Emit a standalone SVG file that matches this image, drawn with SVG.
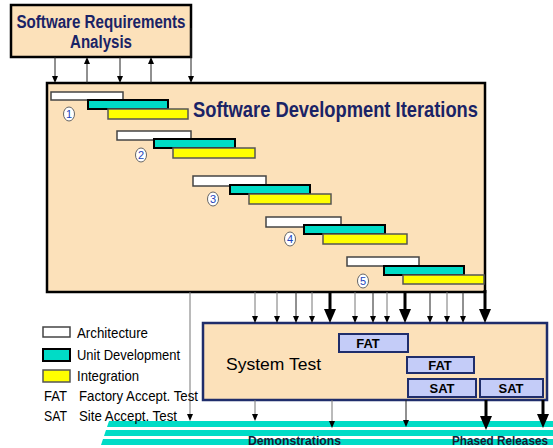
<svg xmlns="http://www.w3.org/2000/svg" width="553" height="448" viewBox="0 0 553 448">
<style>
.box{fill:#FCE1BA;stroke:#000;stroke-width:2.5}
.st{fill:#FCE1BA;stroke:#1F2D6B;stroke-width:2.5}
.arch{fill:#fff;stroke:#444;stroke-width:1.5}
.unit{fill:#00DCC6;stroke:#000;stroke-width:2}
.integ{fill:#FFFF00;stroke:#555;stroke-width:1.5}
.test{fill:#C4CCF8;stroke:#1F2D6B;stroke-width:2}
.num{fill:#fff;stroke:#666;stroke-width:1}
.numt{font-family:"Liberation Sans",Arial,sans-serif;font-size:11px;fill:#2244BB;text-anchor:middle}
.title{font-family:"Liberation Sans",Arial,sans-serif;font-weight:bold;fill:#1A2366}
.leg{font-family:"Liberation Sans",Arial,sans-serif;font-size:15px;fill:#000}
.tt{font-family:"Liberation Sans",Arial,sans-serif;font-weight:bold;font-size:13px;fill:#000;text-anchor:middle}
.lab{font-family:"Liberation Sans",Arial,sans-serif;font-weight:bold;font-size:13px;fill:#1A1A33}
.ln{stroke:#222;stroke-width:1;fill:none}
.lg{stroke:#777;stroke-width:1;fill:none}
.bl{stroke:#000;stroke-width:3;fill:none}
.hd{fill:#000}
.stripe{fill:#00DCC6}
</style>
<g id="stripes">
<polygon class="stripe" points="109,421 553,421 553,427 107,427"/>
<polygon class="stripe" points="106,430 553,430 553,436 104,436"/>
<polygon class="stripe" points="103,439 553,439 553,445 101,445"/>
</g>
<g id="req">
<rect class="box" x="11" y="5" width="180" height="52"/>
<text class="title" x="101" y="28" font-size="18" text-anchor="middle" textLength="169" lengthAdjust="spacingAndGlyphs">Software Requirements</text>
<text class="title" x="101" y="48" font-size="18" text-anchor="middle" textLength="62" lengthAdjust="spacingAndGlyphs">Analysis</text>
</g>
<g id="dev">
<rect class="box" x="47" y="83" width="438" height="209"/>
<text class="title" x="193" y="117" font-size="22" textLength="285" lengthAdjust="spacingAndGlyphs">Software Development Iterations</text>
</g>
<g id="iter1">
<rect class="arch" x="51" y="92" width="72" height="8"/>
<rect class="unit" x="88" y="100" width="80" height="9"/>
<rect class="integ" x="108" y="109" width="80" height="10"/>
<ellipse class="num" cx="69" cy="114" rx="5.5" ry="7"/><text class="numt" x="69" y="118">1</text>
</g>
<g id="iter2">
<rect class="arch" x="117" y="131" width="74" height="9"/>
<rect class="unit" x="154" y="139" width="81" height="9"/>
<rect class="integ" x="173" y="148" width="82" height="10"/>
<ellipse class="num" cx="141" cy="155" rx="5.5" ry="7"/><text class="numt" x="141" y="159">2</text>
</g>
<g id="iter3">
<rect class="arch" x="193" y="176" width="73" height="10"/>
<rect class="unit" x="230" y="185" width="80" height="9"/>
<rect class="integ" x="249" y="194" width="82" height="10"/>
<ellipse class="num" cx="213" cy="199" rx="5.5" ry="7"/><text class="numt" x="213" y="203">3</text>
</g>
<g id="iter4">
<rect class="arch" x="266" y="217" width="75" height="10"/>
<rect class="unit" x="304" y="225" width="81" height="9"/>
<rect class="integ" x="323" y="234" width="84" height="10"/>
<ellipse class="num" cx="290" cy="239" rx="5.5" ry="7"/><text class="numt" x="290" y="243">4</text>
</g>
<g id="iter5">
<rect class="arch" x="347" y="257" width="72" height="9"/>
<rect class="unit" x="384" y="266" width="80" height="9"/>
<rect class="integ" x="403" y="275" width="81" height="9"/>
<ellipse class="num" cx="363" cy="281" rx="5.5" ry="7"/><text class="numt" x="363" y="285">5</text>
</g>
<g id="systest">
<rect class="st" x="203" y="323" width="344" height="77"/>
<text x="226" y="370" font-family="'Liberation Sans',Arial,sans-serif" font-size="17" fill="#000" textLength="95" lengthAdjust="spacingAndGlyphs">System Test</text>
</g>
<g id="fat1"><rect class="test" x="339" y="334" width="69" height="18"/><text class="tt" x="368" y="348">FAT</text></g>
<g id="fat2"><rect class="test" x="407" y="357" width="67" height="16"/><text class="tt" x="440" y="370">FAT</text></g>
<g id="sat1"><rect class="test" x="408" y="379" width="68" height="18"/><text class="tt" x="442" y="393">SAT</text></g>
<g id="sat2"><rect class="test" x="480" y="379" width="63" height="18"/><text class="tt" x="511" y="393">SAT</text></g>
<g id="connectors">
<line class="ln" x1="55" y1="57" x2="55" y2="77"/><polygon class="hd" points="52,76 58,76 55,83"/>
<line class="ln" x1="87" y1="83" x2="87" y2="63"/><polygon class="hd" points="84,64 90,64 87,57"/>
<line class="ln" x1="120" y1="57" x2="120" y2="77"/><polygon class="hd" points="117,76 123,76 120,83"/>
<line class="ln" x1="151" y1="83" x2="151" y2="63"/><polygon class="hd" points="148,64 154,64 151,57"/>
<line class="ln" x1="191" y1="28" x2="191" y2="77"/><polygon class="hd" points="188,76 194,76 191,83"/>
<line class="lg" x1="255" y1="292" x2="255" y2="317"/><polygon class="hd" points="252,316 258,316 255,323"/>
<line class="lg" x1="277" y1="292" x2="277" y2="317"/><polygon class="hd" points="274,316 280,316 277,323"/>
<line class="ln" x1="296" y1="292" x2="296" y2="317"/><polygon class="hd" points="293,316 299,316 296,323"/>
<line class="lg" x1="312" y1="292" x2="312" y2="317"/><polygon class="hd" points="309,316 315,316 312,323"/>
<line class="bl" x1="330" y1="292" x2="330" y2="310"/><polygon class="hd" points="324,309 336,309 330,323"/>
<line class="lg" x1="355" y1="292" x2="355" y2="317"/><polygon class="hd" points="352,316 358,316 355,323"/>
<line class="ln" x1="373" y1="292" x2="373" y2="317"/><polygon class="hd" points="370,316 376,316 373,323"/>
<line class="lg" x1="387" y1="292" x2="387" y2="317"/><polygon class="hd" points="384,316 390,316 387,323"/>
<line class="bl" x1="405" y1="292" x2="405" y2="310"/><polygon class="hd" points="399,309 411,309 405,323"/>
<line class="ln" x1="430" y1="292" x2="430" y2="317"/><polygon class="hd" points="427,316 433,316 430,323"/>
<line class="lg" x1="447" y1="292" x2="447" y2="317"/><polygon class="hd" points="444,316 450,316 447,323"/>
<line class="ln" x1="463" y1="292" x2="463" y2="317"/><polygon class="hd" points="460,316 466,316 463,323"/>
<line class="bl" x1="485" y1="290" x2="485" y2="310"/><polygon class="hd" points="479,309 491,309 485,323"/>
<line class="lg" x1="190" y1="292" x2="190" y2="415"/><polygon class="hd" points="187,414 193,414 190,421"/>
<line class="lg" x1="255" y1="400" x2="255" y2="415"/><polygon class="hd" points="252,414 258,414 255,421"/>
<line class="lg" x1="332" y1="400" x2="332" y2="422"/><polygon class="hd" points="329,421 335,421 332,428"/>
<line class="ln" x1="406" y1="400" x2="406" y2="421"/><polygon class="hd" points="403,420 409,420 406,427"/>
<line class="bl" x1="486" y1="400" x2="486" y2="417"/><polygon class="hd" points="480,416 492,416 486,430"/>
<line class="bl" x1="543" y1="400" x2="543" y2="415"/><polygon class="hd" points="537,414 549,414 543,428"/>
</g>
<g id="legend">
<rect class="arch" x="43" y="327" width="27" height="10"/>
<rect class="unit" x="43" y="349" width="27" height="12"/>
<rect class="integ" x="43" y="370" width="27" height="12"/>
<text class="leg" x="77" y="338" textLength="71" lengthAdjust="spacingAndGlyphs">Architecture</text>
<text class="leg" x="77" y="360" textLength="103" lengthAdjust="spacingAndGlyphs">Unit Development</text>
<text class="leg" x="77" y="381" textLength="62" lengthAdjust="spacingAndGlyphs">Integration</text>
<text class="leg" x="44" y="401" textLength="23" lengthAdjust="spacingAndGlyphs">FAT</text>
<text class="leg" x="79" y="401" textLength="119" lengthAdjust="spacingAndGlyphs">Factory Accept. Test</text>
<text class="leg" x="44" y="421" textLength="23" lengthAdjust="spacingAndGlyphs">SAT</text>
<text class="leg" x="79" y="421" textLength="98" lengthAdjust="spacingAndGlyphs">Site Accept. Test</text>
</g>
<g id="labels">
<text class="lab" x="248" y="445" textLength="93" lengthAdjust="spacingAndGlyphs">Demonstrations</text>
<text class="lab" x="452" y="445" font-size="12" style="font-size:12px" textLength="96" lengthAdjust="spacingAndGlyphs">Phased Releases</text>
</g>
</svg>
